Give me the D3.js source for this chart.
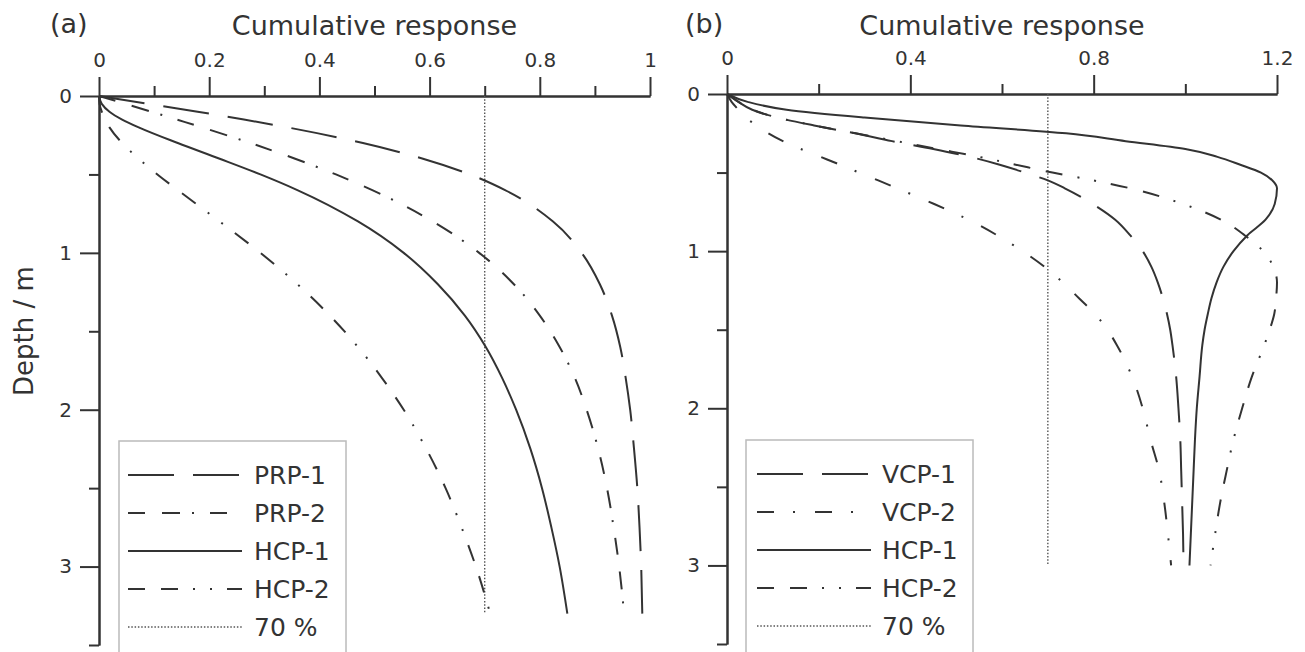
<!DOCTYPE html>
<html><head><meta charset="utf-8">
<script src="https://cdn.jsdelivr.net/npm/d3@7"></script>
<style>
body{margin:0;background:#fff;}
svg text{font-family:"DejaVu Sans",Verdana,sans-serif;fill:#333;}
</style></head><body>
<svg id="chart" width="1305" height="652"></svg>
<script>
// ---------- data ----------
const xTitle = "Cumulative response";
const yTitle = "Depth / m";
const panelLabels = ["(a)", "(b)"];
const threshold = 0.7;
const thresholdLabel = "70 %";

// panel (a)
const depthA = [0,0.05,0.1,0.15,0.2,0.3,0.4,0.5,0.6,0.8,1.0,1.2,1.4,1.6,1.8,2.0,2.25,2.5,2.75,3.0,3.3];
const prp1A = [0,0.090,0.179,0.263,0.342,0.479,0.588,0.673,0.737,0.824,0.876,0.909,0.931,0.946,0.956,0.964,0.971,0.977,0.981,0.984,0.986];
const prp2A = [0,0.048,0.095,0.141,0.187,0.275,0.356,0.430,0.496,0.606,0.690,0.753,0.800,0.836,0.864,0.885,0.906,0.922,0.934,0.944,0.953];
const hcp1A = [0,0.005,0.019,0.042,0.072,0.143,0.219,0.293,0.360,0.470,0.553,0.615,0.664,0.702,0.732,0.757,0.783,0.804,0.821,0.836,0.850];
const hcp2A = [0,0.001,0.005,0.011,0.019,0.042,0.072,0.106,0.143,0.219,0.293,0.360,0.419,0.470,0.514,0.553,0.594,0.629,0.658,0.684,0.710];
const namesA = ["PRP-1","PRP-2","HCP-1","HCP-2"];
const thresholdDepthA = [0, 3.3];

// panel (b)
const depthB = [0,0.05,0.1,0.15,0.2,0.25,0.3,0.35,0.4,0.45,0.5,0.55,0.6,0.7,0.8,0.9,1.0,1.1,1.2,1.3,1.4,1.5,1.6,1.8,2.0,2.2,2.4,2.6,2.8,3.0];
const vcp1B = [0,0.025,0.055,0.11,0.19,0.28,0.36,0.45,0.53,0.595,0.65,0.70,0.737,0.798,0.847,0.88,0.907,0.926,0.94,0.951,0.96,0.967,0.972,0.98,0.985,0.989,0.991,0.993,0.995,0.996];
const vcp2B = [0,0.01,0.025,0.04,0.065,0.09,0.122,0.161,0.204,0.247,0.288,0.33,0.371,0.452,0.527,0.59,0.645,0.693,0.733,0.768,0.803,0.83,0.851,0.884,0.907,0.924,0.943,0.954,0.962,0.969];
const hcp1B = [0,0.045,0.13,0.30,0.51,0.74,0.87,1.00,1.07,1.12,1.165,1.19,1.20,1.195,1.175,1.135,1.105,1.083,1.068,1.057,1.049,1.042,1.037,1.031,1.025,1.021,1.018,1.015,1.012,1.009];
const hcp2B = [0,0.025,0.055,0.11,0.19,0.28,0.37,0.46,0.55,0.63,0.71,0.80,0.88,0.995,1.078,1.13,1.17,1.192,1.20,1.198,1.194,1.184,1.172,1.145,1.124,1.105,1.09,1.076,1.065,1.055];
const namesB = ["VCP-1","VCP-2","HCP-1","HCP-2"];
const thresholdDepthB = [0, 3.0];

// ticks
const xMajorA = [0,0.2,0.4,0.6,0.8,1];
const xMajorLabelsA = ["0","0.2","0.4","0.6","0.8","1"];
const xMinorA = [0.1,0.3,0.5,0.7,0.9];
const xMajorB = [0,0.4,0.8,1.2];
const xMajorLabelsB = ["0","0.4","0.8","1.2"];
const xMinorB = [0.2,0.6,1.0];
const yMajor = [0,1,2,3];
const yMajorLabels = ["0","1","2","3"];
const yMinor = [0.5,1.5,2.5,3.5];

// ---------- styles ----------
const ink = "#333";
const dashLong = "46,19";
const dashDDot = "17,17,18,12,2,16";
const dashDDotDot = "17,16,17,15,2,15,2,15";
const dashDot = "17,19,2,20";
const dotted = "1.5,1.8";

const svg = d3.select("#chart");

function panel(cfg) {
  const g = svg.append("g");
  const x = d3.scaleLinear().domain(cfg.xDomain).range(cfg.xRange);
  const y = d3.scaleLinear().domain([0, 3.5]).range(cfg.yRange);

  // axes
  const axTop = d3.axisTop(x).tickValues(cfg.xMajor).tickSize(19).tickSizeOuter(0).tickPadding(10)
    .tickFormat((d, i) => cfg.xLabels[i]);
  const axTopMinor = d3.axisTop(x).tickValues(cfg.xMinor).tickSize(10).tickSizeOuter(0).tickFormat("");
  const axLeft = d3.axisLeft(y).tickValues(yMajor).tickSize(19).tickSizeOuter(0).tickPadding(8)
    .tickFormat((d, i) => yMajorLabels[i]);
  const axLeftMinor = d3.axisLeft(y).tickValues(yMinor).tickSize(10).tickSizeOuter(0).tickFormat("");

  const gx = g.append("g").attr("transform", `translate(0,${y(0)})`).call(axTop);
  g.append("g").attr("transform", `translate(0,${y(0)})`).call(axTopMinor);
  const gy = g.append("g").attr("transform", `translate(${x(0)},0)`).call(axLeft);
  g.append("g").attr("transform", `translate(${x(0)},0)`).call(axLeftMinor);
  g.selectAll(".domain").attr("stroke", ink).attr("stroke-width", 2);
  g.selectAll(".tick line").attr("stroke", ink).attr("stroke-width", 2);
  g.selectAll(".tick text").attr("font-size", 20).attr("fill", ink)
    .style("font-family", '"DejaVu Sans",Verdana,sans-serif');

  // titles
  g.append("text").attr("x", (cfg.xRange[0] + cfg.xRange[1]) / 2).attr("y", 35)
    .attr("text-anchor", "middle").attr("font-size", 27).text(xTitle);
  g.append("text").attr("x", cfg.labelX).attr("y", 33).attr("font-size", 27).text(cfg.label);

  // 70 % line
  g.append("path")
    .datum(cfg.thrDepth.map(d => ({d: d, v: threshold})))
    .attr("d", d3.line().x(p => x(p.v)).y(p => y(p.d)))
    .attr("fill", "none").attr("stroke", "#555").attr("stroke-width", 1.4)
    .attr("stroke-dasharray", dotted);

  // curves
  const line = d3.line().x(p => x(p.v)).y(p => y(p.d)).curve(d3.curveMonotoneY);
  cfg.series.forEach(s => {
    g.append("path")
      .datum(cfg.depth.map((d, i) => ({d: d, v: s.values[i]})))
      .attr("d", line)
      .attr("fill", "none").attr("stroke", ink).attr("stroke-width", 2)
      .attr("stroke-dasharray", s.dash).attr("stroke-linecap", "butt");
  });

  // legend
  const L = cfg.legend;
  g.append("rect").attr("x", L.x).attr("y", L.y).attr("width", 227).attr("height", 260)
    .attr("fill", "#fff").attr("stroke", "#bbb").attr("stroke-width", 1.5);
  const entries = cfg.series.map(s => ({name: s.name, dash: s.dash, dotted: false}))
    .concat([{name: thresholdLabel, dash: dotted, dotted: true}]);
  entries.forEach((e, i) => {
    const yy = L.y + 34 + i * 38;
    g.append("line").attr("x1", L.x + L.lineOff).attr("x2", L.x + L.lineOff + 114)
      .attr("y1", yy).attr("y2", yy)
      .attr("stroke", e.dotted ? "#555" : ink).attr("stroke-width", e.dotted ? 1.4 : 2)
      .attr("stroke-dasharray", e.dash);
    g.append("text").attr("x", L.x + L.textOff).attr("y", yy + 9).attr("font-size", 25).text(e.name);
  });
  return g;
}

panel({
  xDomain: [0, 1], xRange: [99, 650], yRange: [96, 645],
  xMajor: xMajorA, xLabels: xMajorLabelsA, xMinor: xMinorA,
  label: panelLabels[0], labelX: 50,
  thrDepth: thresholdDepthA, depth: depthA,
  series: [
    {name: namesA[0], values: prp1A, dash: dashLong},
    {name: namesA[1], values: prp2A, dash: dashDDot},
    {name: namesA[2], values: hcp1A, dash: null},
    {name: namesA[3], values: hcp2A, dash: dashDDotDot}
  ],
  legend: {x: 119, y: 441, lineOff: 9, textOff: 135}
});

panel({
  xDomain: [0, 1.2], xRange: [727, 1277], yRange: [94, 644],
  xMajor: xMajorB, xLabels: xMajorLabelsB, xMinor: xMinorB,
  label: panelLabels[1], labelX: 685,
  thrDepth: thresholdDepthB, depth: depthB,
  series: [
    {name: namesB[0], values: vcp1B, dash: dashLong},
    {name: namesB[1], values: vcp2B, dash: dashDot},
    {name: namesB[2], values: hcp1B, dash: null},
    {name: namesB[3], values: hcp2B, dash: dashDDotDot}
  ],
  legend: {x: 746, y: 440, lineOff: 11, textOff: 136}
});

// y-axis title
svg.append("text").attr("transform", "translate(33,331) rotate(-90)")
  .attr("text-anchor", "middle").attr("font-size", 26).text(yTitle);
</script>
</body></html>
